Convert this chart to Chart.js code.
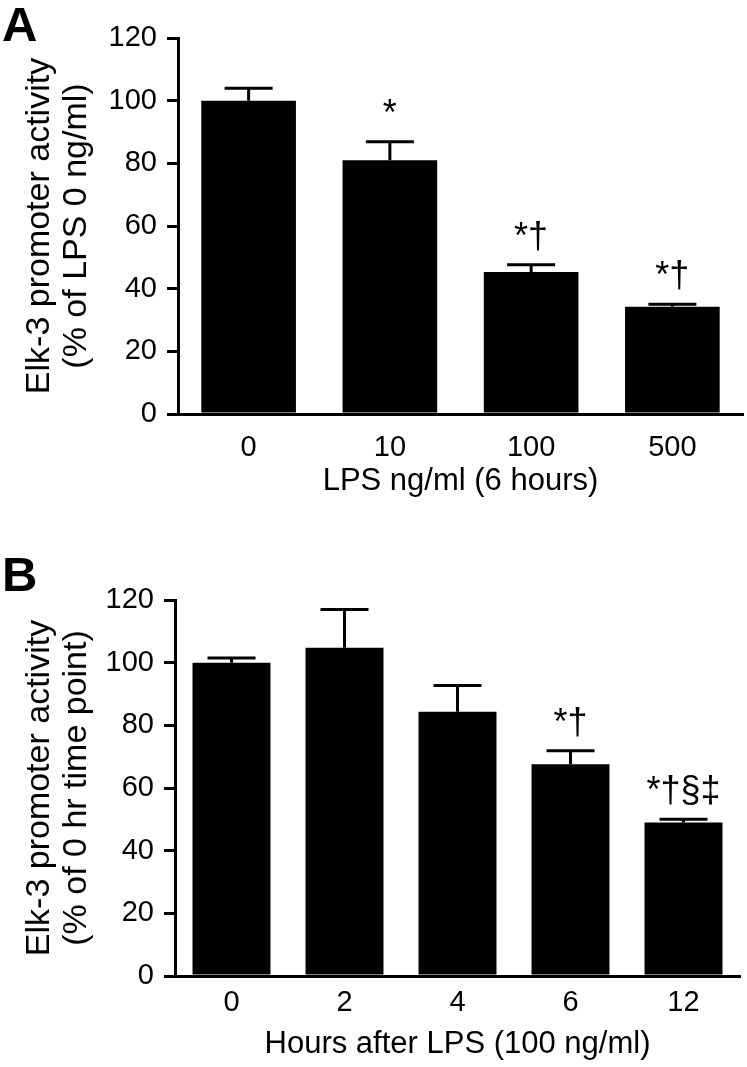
<!DOCTYPE html>
<html>
<head>
<meta charset="utf-8">
<script src="https://cdn.jsdelivr.net/npm/chart.js@4.4.1/dist/chart.umd.min.js"></script>
<style>
  html, body { margin: 0; padding: 0; background: #fff; }
  #page { position: relative; width: 747px; height: 1067px; overflow: hidden; }
  canvas { position: absolute; left: 0; }
  #chartA { top: 0; }
  #chartB { top: 520px; }
  .panel { position: absolute; left: 2px; font: bold 49px "Liberation Sans", Arial, sans-serif; line-height: 49px; color: #000; }
</style>
</head>
<body>
<div id="page">
  <canvas id="chartA" width="747" height="520"></canvas>
  <canvas id="chartB" width="747" height="547"></canvas>
  <div class="panel" style="top:0">A</div>
  <div class="panel" style="top:550px">B</div>
</div>
<script>
// Panel A: LPS dose (6 hours)
var lpsDoses = ['0', '10', '100', '500'];
var lpsMeans = [100, 81.0, 45.3, 34.2];
var lpsErrors = [4.0, 5.9, 2.3, 0.8];
var lpsMarks = ['', '*', '*\u2020', '*\u2020'];

// Panel B: time after LPS (100 ng/ml)
var hourLabels = ['0', '2', '4', '6', '12'];
var hourMeans = [100, 104.8, 84.3, 67.6, 49.0];
var hourErrors = [1.5, 12.2, 8.4, 4.3, 1.0];
var hourMarks = ['', '', '', '*\u2020', '*\u2020\u00a7\u2021'];

var FONT = '"Liberation Sans", Arial, sans-serif';

/* draws the upper error bar and significance marks above each bar */
var errorBarPlugin = {
    id: 'errorBars',
    afterDatasetsDraw: function(chart) {
        var ds = chart.data.datasets[0];
        var meta = chart.getDatasetMeta(0);
        var yScale = chart.scales.y;
        var ctx = chart.ctx;
        ctx.save();
        ctx.strokeStyle = '#000';
        ctx.fillStyle = '#000';
        ctx.lineWidth = 3;
        ctx.font = '36px ' + FONT;
        ctx.textAlign = 'center';
        ctx.textBaseline = 'alphabetic';
        meta.data.forEach(function(bar, i) {
            var base = yScale.getPixelForValue(ds.data[i]);
            var top = yScale.getPixelForValue(ds.data[i] + ds.errors[i]);
            ctx.beginPath();
            ctx.moveTo(bar.x, base);
            ctx.lineTo(bar.x, top);
            ctx.moveTo(bar.x - 24, top);
            ctx.lineTo(bar.x + 24, top);
            ctx.stroke();
            if (ds.marks[i]) {
                ctx.fillText(ds.marks[i], bar.x, top - 17);
            }
        });
        ctx.restore();
    }
};

function makeChart(id, labels, means, errors, marks, o) {
    return new Chart(document.getElementById(id), {
        type: 'bar',
        data: {
            labels: labels,
            datasets: [{
                data: means,
                errors: errors,
                marks: marks,
                backgroundColor: '#000',
                borderWidth: 0,
                categoryPercentage: 1,
                barPercentage: o.barPct
            }]
        },
        options: {
            responsive: false,
            animation: false,
            layout: { padding: { top: o.top, right: o.right, left: 0, bottom: 0 } },
            plugins: { legend: { display: false }, tooltip: { enabled: false } },
            scales: {
                x: {
                    grid: { display: false, drawTicks: false },
                    border: { display: true, color: '#000', width: 3 },
                    ticks: { color: '#000', font: { family: FONT, size: 29 }, padding: o.xTickPad },
                    title: {
                        display: true,
                        text: o.xTitle,
                        color: '#000',
                        font: { family: FONT, size: 31 },
                        padding: { top: 0, bottom: o.xTitlePad }
                    },
                    afterFit: function(scale) { scale.height = o.xHeight; }
                },
                y: {
                    min: 0,
                    max: 120,
                    ticks: { stepSize: 20, color: '#000', font: { family: FONT, size: 29 }, padding: 10 },
                    grid: { drawOnChartArea: false, drawTicks: true, tickLength: 11, color: '#000', lineWidth: 3 },
                    border: { display: true, color: '#000', width: 3 },
                    title: {
                        display: true,
                        text: o.yTitle,
                        color: '#000',
                        font: { family: FONT, size: 34, lineHeight: 1.1 },
                        padding: { top: 21, bottom: 0 }
                    },
                    afterFit: function(scale) { scale.width = o.yWidth; }
                }
            }
        },
        plugins: [errorBarPlugin]
    });
}

makeChart('chartA', lpsDoses, lpsMeans, lpsErrors, lpsMarks, {
    barPct: 0.67, top: 38, right: 4, yWidth: 178, xHeight: 106,
    xTickPad: 17, xTitlePad: 20,
    xTitle: 'LPS ng/ml (6 hours)',
    yTitle: ['Elk-3 promoter activity', '(% of LPS 0 ng/ml)']
});

makeChart('chartB', hourLabels, hourMeans, hourErrors, hourMarks, {
    barPct: 0.69, top: 80, right: 7, yWidth: 175, xHeight: 91,
    xTickPad: 10, xTitlePad: 4,
    xTitle: 'Hours after LPS (100 ng/ml)',
    yTitle: ['Elk-3 promoter activity', '(% of 0 hr time point)']
});
</script>
</body>
</html>
